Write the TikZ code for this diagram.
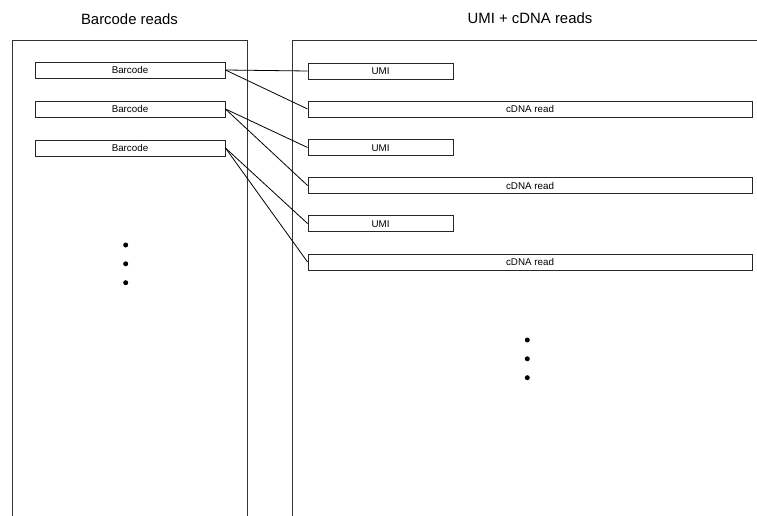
\documentclass[tikz,border=0pt]{standalone}
\usepackage{fontspec}
\setmainfont{Liberation Sans}
\begin{document}
\begin{tikzpicture}[x=1pt,y=-1pt,
  read/.style={draw=black!85,line width=0.9pt,minimum height=16pt,inner sep=0pt,text height=7pt,text depth=0pt,font=\fontsize{9.8}{11}\selectfont,fill=white},
  bc/.style={read,minimum width=190pt},
  umi/.style={read,minimum width=145pt},
  cdna/.style={read,minimum width=444pt},
  panel/.style={draw=black!80,line width=0.9pt},
  link/.style={draw=black,line width=0.8pt},
  title/.style={font=\fontsize{14.9}{17}\selectfont},
  dot/.style={circle,fill=black,inner sep=0pt,minimum size=5pt}]
\useasboundingbox (0,0) rectangle (757,516);
\fill[white] (0,0) rectangle (757,516);
% titles
\node[title] (t1) at (129.5,19) {Barcode reads};
\node[title] (t2) at (530,18.5) {UMI + cDNA reads};
% panels
\draw[panel] (12.7,520) -- (12.7,40) -- (247.7,40) -- (247.7,520);
\draw[panel] (292,520) -- (292,40) -- (760,40);
% barcode boxes
\node[bc] (b1) at (130,70) {Barcode};
\node[bc] (b2) at (130,109) {Barcode};
\node[bc] (b3) at (130,148) {Barcode};
% right boxes
\node[umi] (u1) at (380.5,71) {UMI};
\node[cdna] (c1) at (530,109) {cDNA read};
\node[umi] (u2) at (380.5,147.5) {UMI};
\node[cdna] (c2) at (530,185.5) {cDNA read};
\node[umi] (u3) at (380.5,223.5) {UMI};
\node[cdna] (c3) at (530,262) {cDNA read};
% links
\draw[link] (b1.east) -- (u1.west);
\draw[link] (b1.east) -- (c1.west);
\draw[link] (b2.east) -- (u2.west);
\draw[link] (b2.east) -- (c2.west);
\draw[link] (b3.east) -- (u3.west);
\draw[link] (b3.east) -- (c3.west);
% dots
\node[dot] (d1) at (125.7,245) {};
\node[dot] (d2) at (125.7,263.8) {};
\node[dot] (d3) at (125.7,282.7) {};
\node[dot] (d4) at (527.3,340) {};
\node[dot] (d5) at (527.3,358.8) {};
\node[dot] (d6) at (527.3,377.7) {};
\end{tikzpicture}
\end{document}
